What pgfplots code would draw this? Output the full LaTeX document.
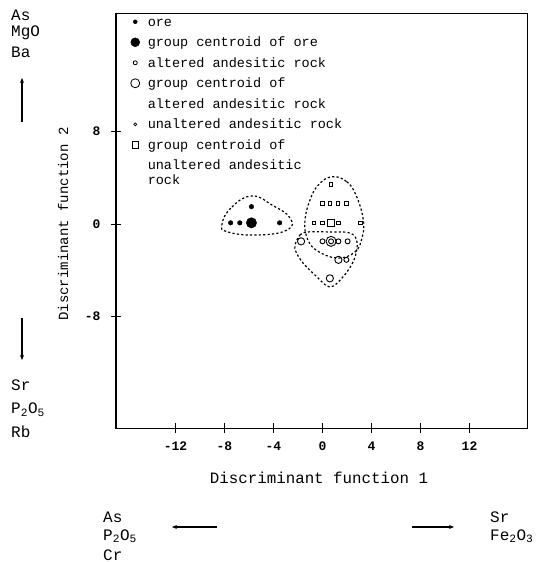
\documentclass[border=0pt]{standalone}
\usepackage{pgfplots}
\pgfplotsset{compat=1.18}
\usepackage{fontspec}
\setmainfont{Liberation Mono}
\usetikzlibrary{arrows.meta}
\tikzset{hull/.style={line width=1.2pt, dash pattern=on 2.2pt off 2.2pt}}
\begin{document}
\begin{tikzpicture}[x=1pt,y=1pt]
\useasboundingbox (0,0) rectangle (545,562);
\begin{axis}[
  at={(322.5pt,338pt)}, anchor=origin, scale only axis,
  width=411.5pt, height=414.5pt,
  xmin=-16.86, xmax=16.73, ymin=-17.65, ymax=18.2,
  axis line style={line width=1.1pt},
  xtick={-12,-8,-4,0,4,8,12}, ytick={-8,0,8},
  xticklabels={-12,-8,-4,0,4,8,12}, yticklabels={-8,0,8},
  tick align=center, xtick pos=bottom, ytick pos=left,
  major tick length=10pt,
  tick style={line width=0.9pt, black},
  ticklabel style={font=\fontsize{13}{13}\selectfont\bfseries},
  xticklabel style={yshift=-5pt},
  yticklabel style={xshift=-7pt},
  legend image code/.code={\draw[mark repeat=2,mark phase=2,#1] plot coordinates {(0cm,0cm) (0.12cm,0cm) (0.24cm,0cm)};},
  legend style={draw=none, fill=none, at={(rel axis cs:0,1)}, anchor=north west,
    xshift=14.6pt, yshift=-1pt, inner sep=0pt,
    font=\fontsize{13.5}{15}\selectfont,
    cells={anchor=west, align=left}, row sep=6.5pt, column sep=7pt,
    nodes={inner sep=1pt}},
]
% ore
\addplot[only marks, mark=*, mark size=2.3pt, black, forget plot] coordinates {
(-7.5,0.1) (-6.75,0.1) (-5.8,1.5) (-3.5,0.1)};
\addplot[only marks, mark=*, mark size=5.2pt, black, forget plot] coordinates {(-5.8,0.1)};
% unaltered
\addplot[only marks, mark=square, mark size=1.8pt, black, line width=0.9pt, forget plot] coordinates {
(0.7,3.4) (0,1.8) (0.6,1.8) (1.25,1.8) (1.95,1.8)
(-0.7,0.1) (0,0.1) (1.3,0.1) (3.1,0.1)};
\addplot[only marks, mark=square, mark size=3.5pt, black, line width=0.9pt, forget plot] coordinates {(0.65,0.1)};
% altered
\addplot[only marks, mark=o, mark size=2.5pt, black, line width=0.9pt, forget plot] coordinates {
(0,-1.5) (0.7,-1.5) (1.3,-1.5) (2.05,-1.5) (1.95,-3.1)};
\addplot[only marks, mark=o, mark size=3.6pt, black, line width=0.9pt, forget plot] coordinates {
(-1.75,-1.5) (1.3,-3.1) (0.6,-4.7)};
\addplot[only marks, mark=o, mark size=5pt, black, line width=0.9pt, forget plot] coordinates {(0.7,-1.5)};
% hulls
\draw[hull] plot[smooth cycle, tension=0.8] coordinates {
(axis cs:-8.2,0) (axis cs:-7.39,1.47) (axis cs:-5.76,2.42) (axis cs:-4.12,1.64)
(axis cs:-2.65,0.52) (axis cs:-2.9,-0.52) (axis cs:-5.27,-0.95) (axis cs:-7.71,-0.69)};
\draw[hull] plot[smooth cycle, tension=0.7] coordinates {
(axis cs:0.75,4.09) (axis cs:1.98,3.66) (axis cs:2.79,2.36) (axis cs:3.33,0.35)
(axis cs:3.25,-1.10) (axis cs:2.65,-2.42) (axis cs:1.18,-2.94) (axis cs:-0.53,-2.25)
(axis cs:-1.29,-1.10) (axis cs:-1.43,0.35) (axis cs:-1.02,2.08) (axis cs:-0.34,3.37)};
\draw[hull] plot[smooth cycle, tension=0.6] coordinates {
(axis cs:-2.24,-1.82) (axis cs:-1.84,-0.95) (axis cs:-1.18,-0.69) (axis cs:0.61,-0.69)
(axis cs:2.24,-0.78) (axis cs:2.82,-1.56) (axis cs:2.57,-3.11) (axis cs:1.67,-4.58)
(axis cs:0.61,-5.45) (axis cs:-0.45,-4.58) (axis cs:-1.59,-3.37) (axis cs:-2.16,-2.42)};
% legend
\addlegendimage{only marks, mark=*, mark size=2pt, black}
\addlegendentry{\strut ore}
\addlegendimage{only marks, mark=*, mark size=4.5pt, black}
\addlegendentry{\strut group centroid of ore}
\addlegendimage{only marks, mark=o, mark size=2pt, black, line width=0.8pt}
\addlegendentry{\strut altered andesitic rock}
\addlegendimage{only marks, mark=o, mark size=4.5pt, black, line width=0.8pt}
\addlegendentry{\strut group centroid of}
\addlegendimage{empty legend}
\addlegendentry{\strut altered andesitic rock}
\addlegendimage{only marks, mark=o, mark size=1.5pt, black, line width=0.7pt}
\addlegendentry{\strut unaltered andesitic rock}
\addlegendimage{only marks, mark=square, mark size=3.3pt, black, line width=0.8pt}
\addlegendentry{\strut group centroid of}
\addlegendimage{empty legend}
\addlegendentry{\strut unaltered andesitic\\rock}
\end{axis}
% axis titles
\node[font=\fontsize{15.8}{15.8}\selectfont] at (319,84) {Discriminant function 1};
\node[rotate=90, font=\fontsize{14}{14}\selectfont] at (63,338) {Discriminant function 2};
% side annotations
\begin{scope}[font=\fontsize{16}{16}\selectfont]
\node[anchor=west, inner sep=0pt] at (11,547) {As};
\node[anchor=west, inner sep=0pt] at (11,529) {MgO};
\node[anchor=west, inner sep=0pt] at (11,510) {Ba};
\node[anchor=west, inner sep=0pt] at (11,177) {Sr};
\node[anchor=west, inner sep=0pt] at (11,152) {P\textsubscript{2}O\textsubscript{5}};
\node[anchor=west, inner sep=0pt] at (11,130) {Rb};
\node[anchor=west, inner sep=0pt] at (103,45) {As};
\node[anchor=west, inner sep=0pt] at (103,26) {P\textsubscript{2}O\textsubscript{5}};
\node[anchor=west, inner sep=0pt] at (103,7) {Cr};
\node[anchor=west, inner sep=0pt] at (490,45) {Sr};
\node[anchor=west, inner sep=0pt] at (490,26) {Fe\textsubscript{2}O\textsubscript{3}};
\end{scope}
\draw[line width=1.4pt, -{Stealth[length=5pt,width=4pt]}] (22,440) -- (22,484);
\draw[line width=1.4pt, -{Stealth[length=5pt,width=4pt]}] (22,244) -- (22,202);
\draw[line width=1.4pt, -{Stealth[length=5pt,width=4pt]}] (217,35) -- (172,35);
\draw[line width=1.4pt, -{Stealth[length=5pt,width=4pt]}] (412,35) -- (454,35);
\end{tikzpicture}
\end{document}
